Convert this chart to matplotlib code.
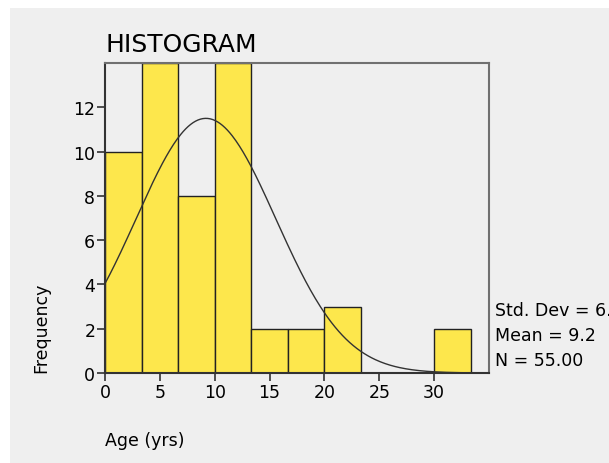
import matplotlib.pyplot as plt
import numpy as np
from matplotlib.patches import Rectangle

# histogram data (age in years, bin width 10/3)
bin_edges = [0, 10/3, 20/3, 10, 40/3, 50/3, 20, 70/3, 80/3, 30, 100/3]
counts = [10, 14, 8, 14, 2, 2, 3, 0, 0, 2]
MEAN = 9.2
STD = 6.36
N = 55

x_ticks = [0, 5, 10, 15, 20, 25, 30]
y_ticks = [0, 2, 4, 6, 8, 10, 12]

BG = '#efefef'
BAR = '#fde74c'

fig = plt.figure(figsize=(6.09, 4.64), dpi=100, facecolor='white')
fig.patches.append(Rectangle((10/609, 0), 599/609, 455/464,
                             transform=fig.transFigure, facecolor=BG,
                             edgecolor='none', zorder=-10))

ax = fig.add_axes([105/609, 90/464, 384/609, 310/464])
ax.set_facecolor(BG)

widths = np.diff(bin_edges)
ax.bar(bin_edges[:-1], counts, width=widths, align='edge', color=BAR,
       edgecolor='#222222', linewidth=1, zorder=2)

# fitted normal curve
xs = np.linspace(0, bin_edges[-1], 300)
bw = widths[0]
ys = N * bw / (STD * np.sqrt(2 * np.pi)) * np.exp(-(xs - MEAN) ** 2 / (2 * STD ** 2))
ax.plot(xs, ys, color='#333333', linewidth=1, zorder=3)

ax.set_xlim(0, 35)
ax.set_ylim(0, 14)
ax.set_xticks(x_ticks)
ax.set_yticks(y_ticks)
ax.tick_params(axis='both', labelsize=12.5, length=6, width=1.2,
               color='#333333', pad=1)
for s in ax.spines.values():
    s.set_color('#707070')
    s.set_linewidth(1.5)
ax.spines['bottom'].set_color('#333333')
ax.spines['left'].set_color('#333333')

fig.text(105/609, 1 - 45/464, 'HISTOGRAM', fontsize=18, va='center', ha='left')
fig.text(105/609, 1 - 441/464, 'Age (yrs)', fontsize=12.5, va='center', ha='left')
fig.text(41/609, 1 - 328/464, 'Frequency', fontsize=12.5, va='center',
         ha='center', rotation=90)

stats = ['Std. Dev = %.2f' % STD, 'Mean = %.1f' % MEAN, 'N = %.2f' % N]
for i, line in enumerate(stats):
    fig.text(495/609, 1 - (311 + 25 * i)/464, line, fontsize=12.5,
             va='center', ha='left')

fig.savefig('out.png', dpi=100)
